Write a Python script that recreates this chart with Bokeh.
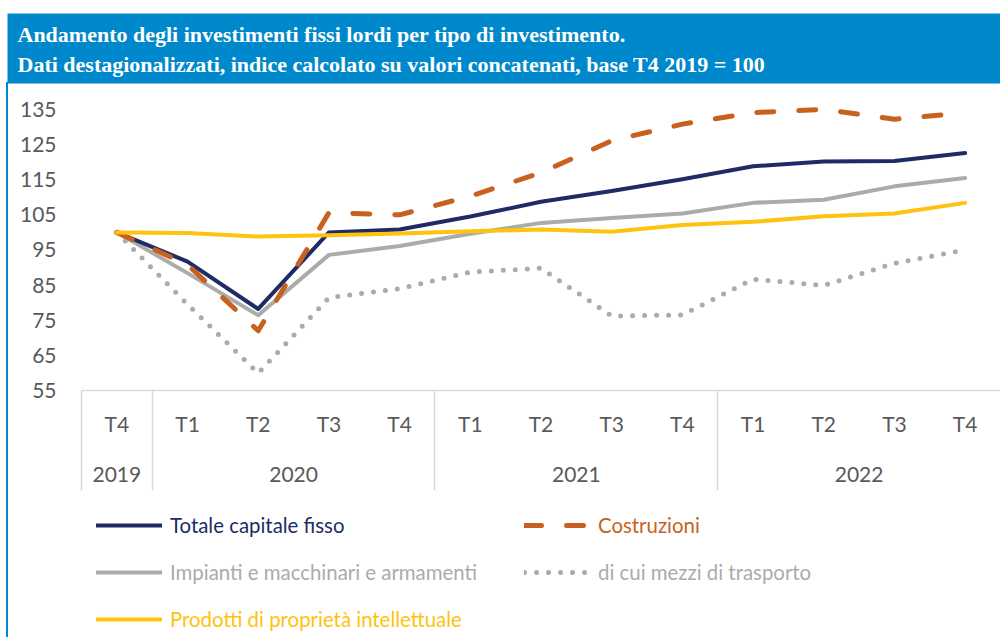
from bokeh.plotting import figure
from bokeh.layouts import column
from bokeh.models import (Range1d, FixedTicker, LinearAxis, Legend, LegendItem, Title)
from bokeh.embed import file_html
from bokeh.resources import INLINE

# ---------------- data ----------------
title_lines = [
    "Andamento degli investimenti fissi lordi per tipo di investimento.",
    "Dati destagionalizzati, indice calcolato su valori concatenati, base T4 2019 = 100",
]
quarters = ["T4", "T1", "T2", "T3", "T4", "T1", "T2", "T3", "T4", "T1", "T2", "T3", "T4"]
years = ["2019", "2020", "2021", "2022"]
year_counts = [1, 4, 4, 4]
y_ticks = [55, 65, 75, 85, 95, 105, 115, 125, 135]

name_totale = "Totale capitale fisso"
name_costruzioni = "Costruzioni"
name_impianti = "Impianti e macchinari e armamenti"
name_trasporto = "di cui mezzi di trasporto"
name_prodotti = "Prodotti di proprietà intellettuale"

totale = [100, 91.7, 78.2, 100.0, 100.8, 104.5, 108.7, 111.8, 115.1, 118.8, 120.2, 120.3, 122.6]
costruzioni = [100, 90.8, 72.0, 105.6, 105.0, 110.3, 117.0, 126.1, 130.8, 134.1, 135.0, 132.2, 134.0]
impianti = [100, 88.4, 76.4, 93.6, 96.1, 99.6, 102.7, 104.1, 105.4, 108.4, 109.3, 113.1, 115.5]
trasporto = [100, 79.5, 59.9, 81.4, 84.0, 88.7, 89.8, 76.2, 76.5, 86.7, 84.9, 91.2, 95.0]
prodotti = [100, 99.8, 98.8, 99.2, 99.7, 100.3, 100.8, 100.2, 102.1, 103.0, 104.6, 105.4, 108.4]

# ---------------- styling ----------------
C_NAVY = "#1E2B64"
C_ORANGE = "#C9611E"
C_GRAY = "#ABABAB"
C_YELLOW = "#FFC20E"
C_BLUE = "#0088CC"
C_TEXT = "#595959"
C_RULE = "#D9D9D9"
FONT = "Lato"

W = 1000
H1, H2 = 500, 137
FL, FT, FB = 81, 92, 110  # frame borders (px)

styles = {
    name_totale: dict(line_color=C_NAVY, line_width=4),
    name_costruzioni: dict(line_color=C_ORANGE, line_width=5, line_dash="17 25"),
    name_impianti: dict(line_color=C_GRAY, line_width=4),
    name_trasporto: dict(line_color=C_GRAY, line_width=5, line_dash="0 12"),
    name_prodotti: dict(line_color=C_YELLOW, line_width=4),
}
series = [
    (name_trasporto, trasporto),
    (name_impianti, impianti),
    (name_totale, totale),
    (name_costruzioni, costruzioni),
    (name_prodotti, prodotti),
]

x = list(range(len(quarters)))

p = figure(width=W, height=H1, output_backend="svg", toolbar_location=None,
           x_range=Range1d(-0.5, len(quarters) - 0.5), y_range=Range1d(55, 139.24),
           x_axis_type=None, y_axis_type=None,
           min_border_left=FL, min_border_right=0, min_border_top=FT, min_border_bottom=FB)
p.outline_line_color = None
p.background_fill_color = "white"
p.border_fill_alpha = 0

# ---------------- title band ----------------
p.add_layout(Title(text="\n".join(title_lines), align="left", offset=-74,
                   text_color="white", text_font="Liberation Serif",
                   text_font_style="bold", text_font_size="22px", text_line_height=1.2,
                   background_fill_color=C_BLUE,
                   padding=dict(left=10, right=400, top=8, bottom=7),
                   standoff=22), "above")

# y axis
yax = LinearAxis(ticker=FixedTicker(ticks=y_ticks))
yax.axis_line_color = None
yax.major_tick_line_color = None
yax.minor_tick_line_color = None
yax.major_tick_out = 0
yax.major_tick_in = 0
yax.major_label_standoff = 25
yax.major_label_text_font = FONT
yax.major_label_text_font_size = "21px"
yax.major_label_text_color = C_TEXT
p.add_layout(yax, "left")

# quarter axis with group separators as minor ticks
seps = [-0.5]
acc = -0.5
for c in year_counts[:-1]:
    acc += c
    seps.append(acc)
qax = LinearAxis(ticker=FixedTicker(ticks=x, minor_ticks=seps),
                 major_label_overrides={i: q for i, q in enumerate(quarters)})
qax.axis_line_color = C_RULE
qax.axis_line_width = 1.5
qax.major_tick_line_color = None
qax.major_tick_out = 0
qax.major_tick_in = 0
qax.minor_tick_line_color = C_RULE
qax.minor_tick_line_width = 1.5
qax.minor_tick_in = 0
qax.minor_tick_out = 100
qax.major_label_standoff = -80
qax.major_label_text_font = FONT
qax.major_label_text_font_size = "21px"
qax.major_label_text_color = C_TEXT
p.add_layout(qax, "below")

# year axis
centers = []
start = 0
for c in year_counts:
    mid = start + (c - 1) / 2
    centers.append(int(mid) if mid == int(mid) else mid)
    start += c
yrax = LinearAxis(ticker=FixedTicker(ticks=centers, minor_ticks=[]),
                  major_label_overrides={c: y for c, y in zip(centers, years)})
yrax.axis_line_color = None
yrax.major_tick_line_color = None
yrax.minor_tick_line_color = None
yrax.major_tick_out = 0
yrax.major_tick_in = 0
yrax.major_label_standoff = 28
yrax.major_label_text_font = FONT
yrax.major_label_text_font_size = "21px"
yrax.major_label_text_color = C_TEXT
p.add_layout(yrax, "below")

# ---------------- lines ----------------
for name, vals in series:
    p.line(x, vals, line_cap="round", line_join="round", **styles[name])

# ---------------- legend panel (series drawn off-view, legend only) ----------------
p2 = figure(width=W, height=H2, output_backend="svg", toolbar_location=None,
            x_range=Range1d(0, 1), y_range=Range1d(0, 1),
            x_axis_type=None, y_axis_type=None, min_border=0)
p2.outline_line_color = None
p2.background_fill_color = "white"
p2.border_fill_alpha = 0

legend_pos = {
    name_totale: (C_NAVY, 15, 100),
    name_costruzioni: (C_ORANGE, 443, 100),
    name_impianti: (C_GRAY, 15, 53),
    name_trasporto: (C_GRAY, 443, 53),
    name_prodotti: (C_YELLOW, 15, 6),
}
for name, vals in series:
    col, lx, ly = legend_pos[name]
    r = p2.line(x, vals, line_cap="round", line_join="round", **styles[name])
    leg = Legend(items=[LegendItem(label=name, renderers=[r])], location=(lx, ly),
                 label_text_color=col, label_text_font=FONT, label_text_font_size="20.4px",
                 glyph_width=66, glyph_height=20, label_height=20, label_standoff=8,
                 padding=0, margin=0, spacing=0, border_line_color=None,
                 background_fill_alpha=0)
    p2.add_layout(leg)

layout = column(p, p2, spacing=0, styles={
    "background-image": "linear-gradient(#0088CC, #0088CC)",
    "background-size": "2px 560px",
    "background-position": "6px 82px",
    "background-repeat": "no-repeat",
})
open("out.html", "w").write(file_html(layout, INLINE))
